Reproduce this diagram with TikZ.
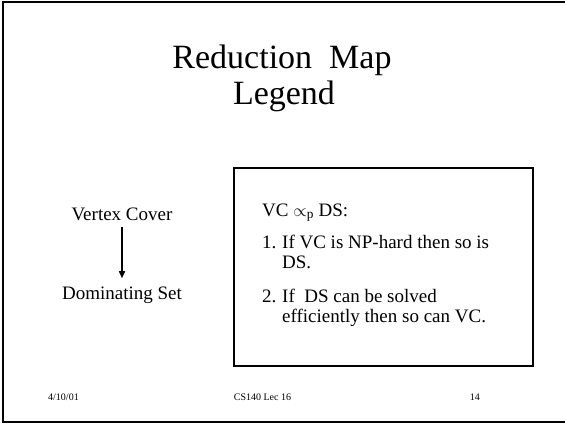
\documentclass[tikz,border=0pt]{standalone}
\usepackage{fontspec}
\setmainfont{Liberation Serif}
\usetikzlibrary{arrows.meta}
\begin{document}
\begin{tikzpicture}[x=1pt, y=-1pt,
    every node/.style={inner sep=0pt},
    titlefont/.style={font=\fontsize{34}{40}\selectfont},
    bodyfont/.style={font=\fontsize{19}{22}\selectfont},
    footfont/.style={font=\fontsize{10}{12}\selectfont},
    frame/.style={line width=2pt}]
    \useasboundingbox (0,0) rectangle (565,424);

    % khung trang
    \draw[frame] (565,2) -- (3,2) -- (3,422) -- (565,422);

    % tieu de
    \node[titlefont, anchor=base] (title1) at (282,68) {Reduction\ \ Map};
    \node[titlefont, anchor=base] (title2) at (284,104) {Legend};

    % chu giai: mui ten rut gon
    \node[bodyfont, anchor=base] (vc) at (122,220) {Vertex Cover};
    \node[bodyfont, anchor=base] (ds) at (122,299) {Dominating Set};
    \draw[line width=1.5pt, -{Triangle[length=7pt,width=6pt]},
        shorten <=7pt, shorten >=8pt] (vc) -- (ds);

    % hop giai thich
    \node[draw, frame, anchor=north west, minimum width=299pt,
        minimum height=198pt] (legendbox) at (233,167) {};
    \node[bodyfont, anchor=base west] (rel) at (262,216) {VC $\propto_{\mathrm{p}}$ DS:};
    \node[bodyfont, anchor=base west] (num1) at (262,248) {1.};
    \node[bodyfont, anchor=base west] (line1a) at (282,248) {If VC is NP-hard then so is};
    \node[bodyfont, anchor=base west] (line1b) at (282,268) {DS.};
    \node[bodyfont, anchor=base west] (num2) at (262,302) {2.};
    \node[bodyfont, anchor=base west] (line2a) at (282,302) {If\ \ DS can be solved};
    \node[bodyfont, anchor=base west] (line2b) at (282,322) {efficiently then so can VC.};

    % chan trang
    \node[footfont, anchor=base west] (date) at (48,400) {4/10/01};
    \node[footfont, anchor=base] (course) at (262.5,400) {CS140 Lec 16};
    \node[footfont, anchor=base east] (page) at (480,400) {14};
\end{tikzpicture}
\end{document}
